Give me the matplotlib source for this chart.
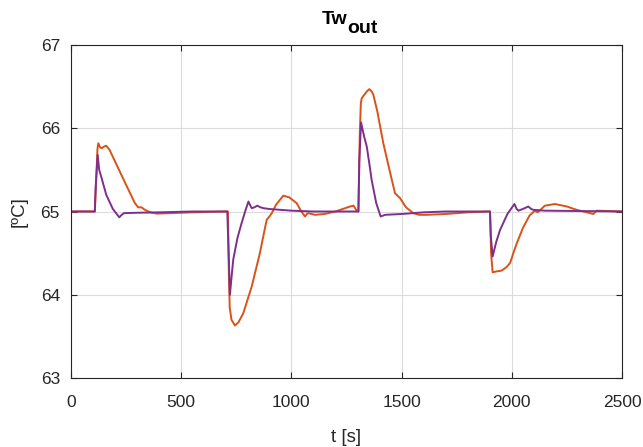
import matplotlib
matplotlib.use("Agg")
import matplotlib.pyplot as plt

plt.rcParams['font.family'] = ['Liberation Sans', 'DejaVu Sans']

t_orange = [0, 108, 113, 120, 124, 132, 139, 150, 160, 175, 200, 250, 290, 305, 320, 335, 360, 389, 450, 550, 700,
            712, 716, 720, 728, 744, 760, 782, 820, 857, 880, 888, 900, 911, 930, 963, 990, 1024, 1045, 1062, 1070,
            1077, 1107, 1150, 1200, 1266, 1282, 1296, 1304,
            1310, 1315, 1319, 1330, 1345, 1354, 1365, 1372, 1390, 1417, 1445, 1470, 1493, 1520, 1553, 1580, 1614,
            1700, 1800, 1901,
            1906, 1913, 1930, 1954, 1975, 1992, 2020, 2050, 2080, 2105, 2117, 2130, 2150, 2196, 2250, 2294, 2340,
            2370, 2385, 2500]
v_orange = [65.0, 65.0, 65.3, 65.75, 65.82, 65.77, 65.76, 65.78, 65.79, 65.74, 65.6, 65.32, 65.1, 65.05, 65.05,
            65.02, 64.99, 64.975, 64.98, 64.99, 65.0,
            65.0, 64.3, 63.85, 63.7, 63.63, 63.67, 63.78, 64.1, 64.5, 64.8, 64.9, 64.94, 64.98, 65.08, 65.19, 65.17,
            65.1, 65.0, 64.94, 64.97, 64.98, 64.96, 64.97, 65.0, 65.06, 65.07, 65.01, 65.0,
            65.9, 66.3, 66.36, 66.4, 66.45, 66.47, 66.44, 66.4, 66.2, 65.82, 65.5, 65.22, 65.16, 65.05, 64.98,
            64.96, 64.96, 64.97, 64.99, 65.0,
            64.5, 64.27, 64.28, 64.29, 64.33, 64.38, 64.6, 64.8, 64.95, 65.01, 64.99, 65.02, 65.07, 65.09, 65.06,
            65.02, 64.99, 64.97, 65.01, 65.0]

t_purple = [0, 108, 112, 121, 128, 139, 160, 190, 219, 230, 240, 300, 400, 550, 709,
            714, 721, 728, 736, 755, 774, 790, 805, 812, 820, 832, 845, 860, 873, 900, 1000, 1100, 1304,
            1308, 1316, 1330, 1342, 1355, 1364, 1385, 1405, 1425, 1500, 1600, 1700, 1901,
            1905, 1913, 1930, 1947, 1980, 2012, 2022, 2030, 2050, 2075, 2088, 2098, 2150, 2500]
v_purple = [65.0, 65.0, 65.3, 65.68, 65.5, 65.4, 65.2, 65.03, 64.93, 64.96, 64.98, 64.985, 64.99, 65.0, 65.0,
            64.6, 64.0, 64.2, 64.42, 64.68, 64.86, 65.0, 65.12, 65.08, 65.04, 65.05, 65.07, 65.05, 65.04, 65.03,
            65.01, 65.0, 65.0,
            65.6, 66.07, 65.9, 65.78, 65.55, 65.38, 65.1, 64.94, 64.96, 64.97, 64.99, 65.0, 65.0,
            64.7, 64.46, 64.64, 64.78, 64.97, 65.09, 65.03, 65.01, 65.03, 65.06, 65.03, 65.02, 65.01, 65.0]

x_ticks = [0, 500, 1000, 1500, 2000, 2500]
y_ticks = [63, 64, 65, 66, 67]
title_main = 'Tw'
title_sub = 'out'

W, H = 643, 447
fig = plt.figure(figsize=(W / 100, H / 100), dpi=100)
ax = fig.add_axes([71/W, 69/H, 551/W, 333/H])
ax.plot(t_orange, v_orange, color='#D95319', lw=1.4)
ax.plot(t_purple, v_purple, color='#7E2F8E', lw=1.4)
ax.set_xlim(0, 2500)
ax.set_ylim(63, 67)
ax.set_xticks(x_ticks)
ax.set_yticks(y_ticks)
ax.grid(True, color='#dcdcdc', lw=0.8)
ax.set_axisbelow(True)
ax.tick_params(direction='in', top=True, right=True, labelsize=12.5, colors='#262626', length=4)
ax.tick_params(axis='x', pad=12)
ax.tick_params(axis='y', pad=8)
for s in ax.spines.values():
    s.set_color('#262626')
    s.set_linewidth(0.8)
ax.set_xlabel('t [s]', fontsize=13.5, color='#262626', labelpad=14)
ax.set_ylabel('[ºC]', fontsize=13.5, color='#262626', labelpad=9)
fig.text(347/W, 1 - 24/H, title_main, ha='right', va='baseline', fontsize=14, fontweight='bold', color='black')
fig.text(347/W, 1 - 33/H, title_sub, ha='left', va='baseline', fontsize=14, fontweight='bold', color='black')
fig.savefig('out.png', dpi=100)
